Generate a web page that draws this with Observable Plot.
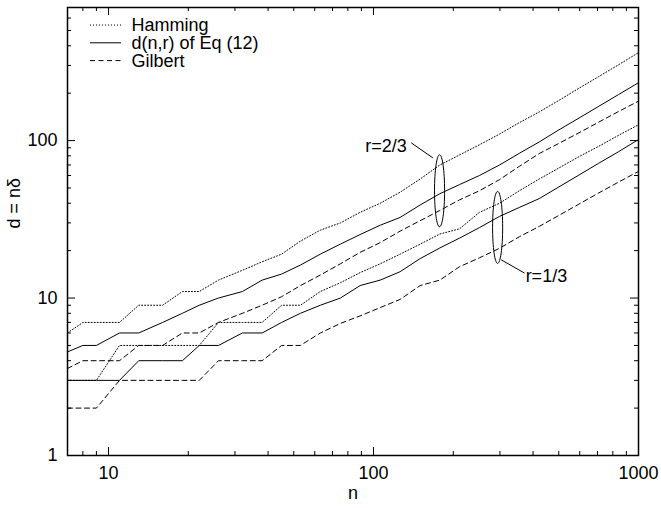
<!DOCTYPE html>
<html><head><meta charset="utf-8">
<script src="https://cdn.jsdelivr.net/npm/d3@7"></script>
<script src="https://cdn.jsdelivr.net/npm/@observablehq/plot@0.6"></script>
<style>html,body{margin:0;padding:0;background:#fff}</style>
</head><body><div id="chart"></div>
<script>
// ---- data ----
const nValues     = [7,8,9,11,13,16,19,22,26,32,38,45,53,63,75,89,106,126,150,178,211,251,299,355,422,501,596,708,841,1000];
const hammingHigh = [6,7,7,7,9,9,11,11,13,15,17,19,23,27,30,35,40,47,57,70,81,94,110,130,152,180,215,255,303,362];
const dHigh       = [4.55,5,5,6,6,7,8,9,10,11,13,14.2,16.2,19,22,25.3,29,32.5,39,46,52.5,60,70,83,98,117,139,165,196,233];
const gilbertHigh = [3.57,4,4,4,5,5,6,6,7,8,9,10.2,12,14,16.5,19.5,22.5,26.6,31,36,42,48,56.5,68.6,82.7,96,112,131,153,178];
const hammingLow  = [3,3,3,5,5,5,5,5,7,7,7,9,9,11,12.5,14.5,16.5,19,22,25.5,27.5,35,40,48,57,67,79,92,108,126];
const dLow        = [3,3,3,3,4,4,4,5,5,6,6,7,8,9,10,12,13,14.7,17.8,20.8,24,28,33,37.6,42.8,50.8,60.4,71.8,85,101.5];
const gilbertLow  = [2,2,2,3,3,3,3,3,4,4,4,5,5,6,6.9,7.7,8.7,9.8,12,13,15.8,18,20.7,24.5,28.5,33.5,39.5,46.5,54.5,63.7];

const legendNames  = ["Hamming", "d(n,r) of Eq (12)", "Gilbert"];
const legendDashes = ["1,2", null, "5,3.5"];

const xMajor = [10, 100, 1000];
const xMinor = [8,9,20,30,40,50,60,70,80,90,200,300,400,500,600,700,800,900];
const yMajor = [1, 10, 100];
const yMinor = [2,3,4,5,6,7,8,9,20,30,40,50,60,70,80,90,200,300,400,500,600];

const groupLabels = [
  {text: "r=2/3", n: 133.4, d: 91.6},
  {text: "r=1/3", n: 375, d: 13.8}
];
const ellipses = [{n: 177.5, d: 48}, {n: 294, d: 28.1}];
const leaders = [
  {n1: 138.8, d1: 96.7, n2: 167.5, d2: 77.6},
  {n1: 303, d1: 17.5, n2: 371.5, d2: 14.4}
];

// ---- build ----
const toRows = ys => nValues.map((n, i) => ({n, d: ys[i]}));
const W = 661, H = 508, mL = 67, mR = 23, mT = 7, mB = 53;
const pw = W - mL - mR, ph = H - mT - mB;

const ellipseSymbol = {
  draw(context, size) {
    const ry = Math.sqrt(size / Math.PI);
    const rx = ry * 0.14;
    const k = 0.5523;
    context.moveTo(0, -ry);
    context.bezierCurveTo(k*rx, -ry, rx, -k*ry, rx, 0);
    context.bezierCurveTo(rx, k*ry, k*rx, ry, 0, ry);
    context.bezierCurveTo(-k*rx, ry, -rx, k*ry, -rx, 0);
    context.bezierCurveTo(-rx, -k*ry, -k*rx, -ry, 0, -ry);
    context.closePath();
  }
};

const lineOpts = (dash) => ({x: "n", y: "d", stroke: "black", strokeWidth: 1, strokeDasharray: dash ?? undefined});

const plot = Plot.plot({
  width: W, height: H,
  marginLeft: mL, marginRight: mR, marginTop: mT, marginBottom: mB,
  style: {fontFamily: "'Liberation Sans', Arial, Helvetica, sans-serif", fontSize: "18px", color: "black", background: "white"},
  x: {type: "log", domain: [7, 1000], label: null},
  y: {type: "log", domain: [1, 700], label: null},
  marks: [
    Plot.axisX({ticks: xMajor, tickSize: 0, tickPadding: 11, tickFormat: d => String(d), label: null}),
    Plot.axisY({ticks: yMajor, tickSize: 0, tickPadding: 10, tickFormat: d => String(d), label: null}),
    // inward ticks, mirrored
    Plot.tickX(xMajor, {x: d => d, insetTop: ph - 8, stroke: "black"}),
    Plot.tickX(xMajor, {x: d => d, insetBottom: ph - 8, stroke: "black"}),
    Plot.tickX(xMinor, {x: d => d, insetTop: ph - 4, stroke: "black"}),
    Plot.tickX(xMinor, {x: d => d, insetBottom: ph - 4, stroke: "black"}),
    Plot.tickY(yMajor, {y: d => d, insetRight: pw - 8, stroke: "black"}),
    Plot.tickY(yMajor, {y: d => d, insetLeft: pw - 8, stroke: "black"}),
    Plot.tickY(yMinor, {y: d => d, insetRight: pw - 4, stroke: "black"}),
    Plot.tickY(yMinor, {y: d => d, insetLeft: pw - 4, stroke: "black"}),
    Plot.line(toRows(hammingHigh), lineOpts(legendDashes[0])),
    Plot.line(toRows(dHigh), lineOpts(legendDashes[1])),
    Plot.line(toRows(gilbertHigh), lineOpts(legendDashes[2])),
    Plot.line(toRows(hammingLow), lineOpts(legendDashes[0])),
    Plot.line(toRows(dLow), lineOpts(legendDashes[1])),
    Plot.line(toRows(gilbertLow), lineOpts(legendDashes[2])),
    Plot.dot(ellipses, {x: "n", y: "d", r: 36, symbol: ellipseSymbol, stroke: "black", fill: "none", strokeWidth: 1}),
    Plot.link(leaders, {x1: "n1", y1: "d1", x2: "n2", y2: "d2", stroke: "black", strokeWidth: 1}),
    Plot.text([groupLabels[0]], {x: "n", y: "d", text: "text", textAnchor: "end", fill: "black"}),
    Plot.text([groupLabels[1]], {x: "n", y: "d", text: "text", textAnchor: "start", fill: "black"}),
    Plot.text(["n"], {frameAnchor: "bottom", dy: 43, text: d => d, fill: "black"}),
    Plot.text(["d = nδ"], {frameAnchor: "left", dx: -53, dy: -3, rotate: -90, text: d => d, fill: "black"}),
    Plot.frame({stroke: "black", strokeWidth: 1.5})
  ]
});

// legend (top-left, inside frame)
const svg = d3.select(plot);
const lg = svg.append("g").attr("class", "legend");
legendNames.forEach((name, i) => {
  const cy = 25 + i * 17.8;
  lg.append("line")
    .attr("x1", 90).attr("x2", 121).attr("y1", cy).attr("y2", cy)
    .attr("stroke", "black").attr("stroke-width", 1)
    .attr("stroke-dasharray", legendDashes[i]);
  lg.append("text")
    .attr("x", 131.5).attr("y", cy).attr("dy", "0.35em")
    .attr("text-anchor", "start")
    .attr("fill", "black")
    .text(name);
});

document.getElementById("chart").appendChild(plot);
</script>
</body></html>
